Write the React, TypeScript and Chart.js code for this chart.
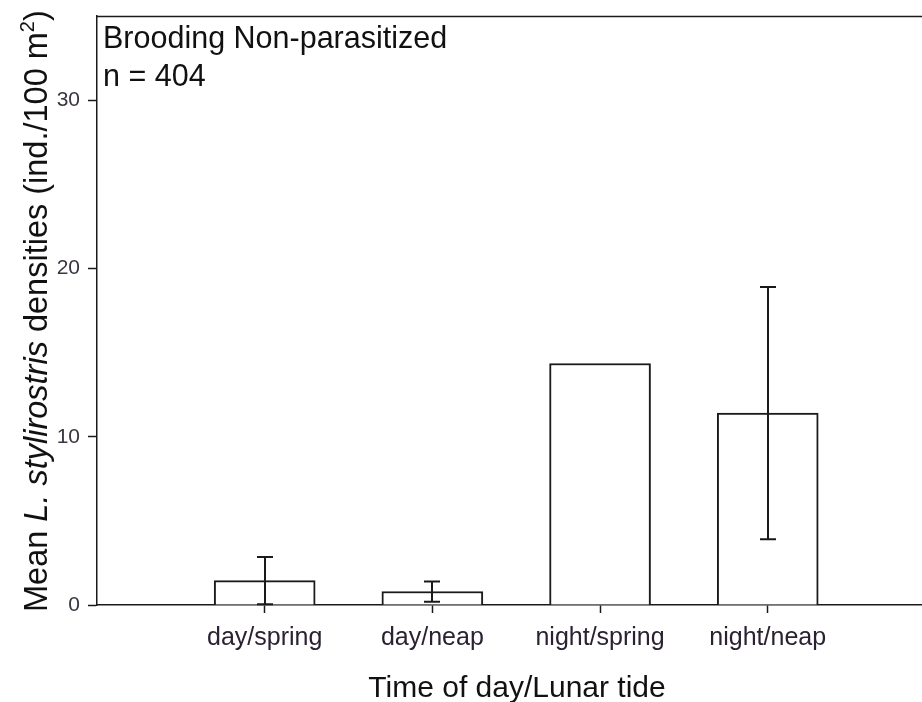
import React, { useEffect, useRef } from "react";
import { Chart, registerables } from "chart.js";

Chart.register(...registerables);

// Groups on the x axis (time of day / lunar tide)
const categories = ["day/spring", "day/neap", "night/spring", "night/neap"];
// Mean densities (ind./100 m²)
const means = [1.45, 0.8, 14.35, 11.4];
// Standard errors; null where no error bar is drawn
const errors: (number | null)[] = [1.4, 0.6, null, 7.5];
// Y axis tick values
const yTicks = [0, 10, 20, 30];

const FONT = '"Liberation Sans", Arial, sans-serif';

const errorBarPlugin = {
  id: "errorBars",
  afterDatasetsDraw(chart: any) {
    const { ctx } = chart;
    const xs = chart.scales.x;
    const ys = chart.scales.y;
    ctx.save();
    ctx.strokeStyle = "#1a1a1a";
    ctx.lineWidth = 2;
    means.forEach((m, i) => {
      const e = errors[i];
      if (e == null) return;
      const x = Math.round(xs.getPixelForValue(i + 1));
      const yHi = ys.getPixelForValue(m + e);
      const yLo = ys.getPixelForValue(Math.max(m - e, 0));
      ctx.beginPath();
      ctx.moveTo(x, yHi);
      ctx.lineTo(x, yLo);
      ctx.moveTo(x - 8, yHi);
      ctx.lineTo(x + 8, yHi);
      ctx.moveTo(x - 8, yLo);
      ctx.lineTo(x + 8, yLo);
      ctx.stroke();
    });
    ctx.restore();
  },
};

const decorPlugin = {
  id: "decor",
  afterDraw(chart: any) {
    const { ctx, chartArea } = chart;
    ctx.save();
    // frame top line
    ctx.strokeStyle = "#1a1a1a";
    ctx.lineWidth = 1.5;
    ctx.beginPath();
    ctx.moveTo(chartArea.left, chartArea.top + 0.5);
    ctx.lineTo(chartArea.right, chartArea.top + 0.5);
    ctx.stroke();

    ctx.fillStyle = "#111";
    ctx.textBaseline = "alphabetic";
    ctx.textAlign = "left";

    // panel label
    ctx.font = `30.5px ${FONT}`;
    ctx.fillText("Brooding Non-parasitized", 103, 48);
    ctx.fillText("n = 404", 103, 86);

    // x axis title
    ctx.font = `30px ${FONT}`;
    ctx.textAlign = "center";
    ctx.fillText("Time of day/Lunar tide", 517, 697);

    // y axis title with italic species name and superscript
    ctx.textAlign = "left";
    const parts = [
      { t: "Mean ", f: `32.5px ${FONT}`, dy: 0 },
      { t: "L. stylirostris", f: `italic 32.5px ${FONT}`, dy: 0 },
      { t: " densities (ind./100 m", f: `32.5px ${FONT}`, dy: 0 },
      { t: "2", f: `20px ${FONT}`, dy: -13 },
      { t: ")", f: `32.5px ${FONT}`, dy: 0 },
    ];
    ctx.translate(47, 612);
    ctx.rotate(-Math.PI / 2);
    let x = 0;
    for (const p of parts) {
      ctx.font = p.f;
      ctx.fillText(p.t, x, p.dy);
      x += ctx.measureText(p.t).width;
    }
    ctx.restore();
  },
};

export default function App() {
  const ref = useRef<HTMLCanvasElement>(null);

  useEffect(() => {
    if (!ref.current) return;
    const chart = new Chart(ref.current, {
      type: "bar",
      data: {
        datasets: [
          {
            data: means.map((m, i) => ({ x: i + 1, y: m })),
            backgroundColor: "#ffffff",
            borderColor: "#1a1a1a",
            borderWidth: 2,
            borderSkipped: "bottom",
            barThickness: 101,
          },
        ],
      },
      plugins: [errorBarPlugin, decorPlugin],
      options: {
        animation: false,
        responsive: false,
        layout: { padding: { top: 16, left: 0, right: 0, bottom: 0 } },
        plugins: {
          legend: { display: false },
          tooltip: { enabled: false },
        },
        scales: {
          x: {
            type: "linear",
            offset: false,
            min: 0,
            max: 4.92,
            afterBuildTicks: (scale: any) => {
              scale.ticks = categories.map((_, i) => ({ value: i + 1 }));
            },
            afterFit: (scale: any) => {
              scale.height = 97;
              scale.paddingLeft = 0;
              scale.paddingRight = 0;
            },
            grid: {
              offset: false,
              drawOnChartArea: false,
              tickLength: 8,
              tickColor: "#1a1a1a",
              tickWidth: 1.5,
            },
            border: { display: true, color: "#1a1a1a", width: 1.5 },
            ticks: {
              autoSkip: false,
              maxRotation: 0,
              padding: 10,
              color: "#2a2233",
              font: { family: FONT, size: 25 },
              callback: (v: any) => categories[Number(v) - 1] ?? "",
            },
          },
          y: {
            type: "linear",
            min: 0,
            max: 35,
            afterBuildTicks: (scale: any) => {
              scale.ticks = yTicks.map((v) => ({ value: v }));
            },
            afterFit: (scale: any) => {
              scale.width = 97;
              scale.paddingTop = 0;
              scale.paddingBottom = 0;
            },
            grid: {
              drawOnChartArea: false,
              tickLength: 9,
              tickColor: "#1a1a1a",
              tickWidth: 1.5,
            },
            border: { display: true, color: "#1a1a1a", width: 1.5 },
            ticks: {
              padding: 8,
              color: "#3a3540",
              font: { family: FONT, size: 21 },
            },
          },
        },
      },
    });
    return () => chart.destroy();
  }, []);

  return (
    <div style={{ position: "absolute", left: 0, top: 0, width: 922, height: 702, background: "#fff" }}>
      <canvas ref={ref} width={922} height={702} style={{ display: "block" }} />
    </div>
  );
}
